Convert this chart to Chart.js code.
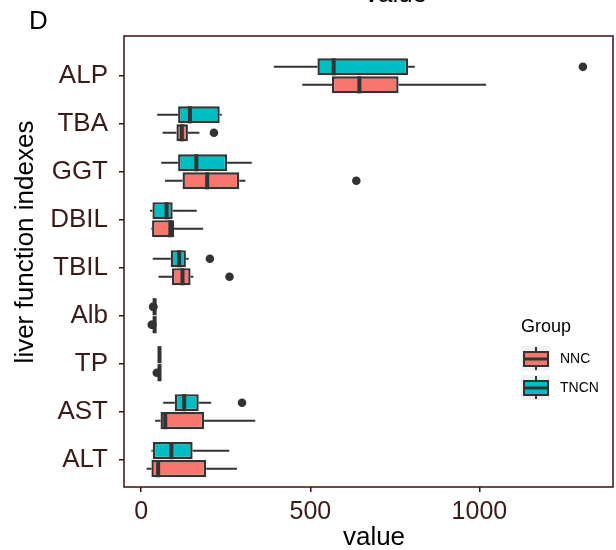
<!DOCTYPE html>
<html>
<head>
<meta charset="utf-8">
<script src="https://cdn.jsdelivr.net/npm/chart.js@4.4.1/dist/chart.umd.min.js"></script>
<style>
  body { margin: 0; background: #fff; }
</style>
</head>
<body>
<canvas id="myChart" width="616" height="550"></canvas>
<script>
const indexes = ['ALP', 'TBA', 'GGT', 'DBIL', 'TBIL', 'Alb', 'TP', 'AST', 'ALT'];
const xTicks = [0, 500, 1000];

// NNC group (lower box of each pair)
const nncLow = [476, 63, 70, 30, 51, 37, 50, 41, 16];
const nncQ1 = [564, 104, 122, 32, 91, 38.5, 52, 57, 30];
const nncMedian = [645, 120, 195, 86, 122, 39.5, 54, 71, 50];
const nncQ3 = [761, 138, 290, 97, 146, 41, 55, 186, 192];
const nncHigh = [1020, 172, 308, 183, 154, 43, 57, 337, 283];
const nncOutliers = [[], [215], [636], [], [261], [31, 33], [46], [], []];

// TNCN group (upper box of each pair)
const tncnLow = [392, 47, 59, 26, 34, 37, 51, 65, 30];
const tncnQ1 = [521, 109, 109, 33, 87, 38.5, 53, 99, 34];
const tncnMedian = [569, 144, 163, 75, 112, 39.5, 54, 127, 89];
const tncnQ3 = [789, 232, 254, 93, 132, 40.5, 55, 170, 152];
const tncnHigh = [809, 238, 327, 164, 140, 42, 57, 207, 260];
const tncnOutliers = [[1306], [], [], [], [203], [35, 36], [], [298], []];

const groups = [
  { name: 'TNCN', color: '#00BFC4', low: tncnLow, q1: tncnQ1, med: tncnMedian, q3: tncnQ3, high: tncnHigh, out: tncnOutliers },
  { name: 'NNC', color: '#F8766D', low: nncLow, q1: nncQ1, med: nncMedian, q3: nncQ3, high: nncHigh, out: nncOutliers }
];
const legendOrder = ['NNC', 'TNCN'];

const ink = '#333333';
const axisColor = '#3a0f0f';
const labelColor = '#3b1b17';
const fontFamily = '"Liberation Sans", Arial, sans-serif';

// whiskers, medians, outliers drawn on top of the floating bars
const boxExtras = {
  id: 'boxExtras',
  afterDatasetsDraw(chart) {
    const ctx = chart.ctx;
    const x = chart.scales.x;
    groups.forEach((g, di) => {
      const meta = chart.getDatasetMeta(di);
      meta.data.forEach((bar, i) => {
        const yc = bar.y;
        const h = bar.height;
        ctx.save();
        ctx.strokeStyle = ink;
        ctx.lineCap = 'butt';
        ctx.lineWidth = 2;
        ctx.beginPath();
        ctx.moveTo(x.getPixelForValue(g.low[i]), yc);
        ctx.lineTo(x.getPixelForValue(g.q1[i]), yc);
        ctx.moveTo(x.getPixelForValue(g.q3[i]), yc);
        ctx.lineTo(x.getPixelForValue(g.high[i]), yc);
        ctx.stroke();
        ctx.lineWidth = 4;
        const mx = x.getPixelForValue(g.med[i]);
        ctx.beginPath();
        ctx.moveTo(mx, yc - h / 2);
        ctx.lineTo(mx, yc + h / 2);
        ctx.stroke();
        ctx.fillStyle = ink;
        g.out[i].forEach(v => {
          ctx.beginPath();
          ctx.arc(x.getPixelForValue(v), yc, 4.3, 0, Math.PI * 2);
          ctx.fill();
        });
        ctx.restore();
      });
    });
  },
  afterDraw(chart) {
    const ctx = chart.ctx;
    const a = chart.chartArea;
    ctx.save();
    // panel frame
    ctx.strokeStyle = axisColor;
    ctx.lineWidth = 1.5;
    ctx.strokeRect(a.left, a.top, a.right - a.left, a.bottom - a.top);

    // texts
    ctx.fillStyle = '#000';
    ctx.font = '26px ' + fontFamily;
    ctx.textAlign = 'left';
    ctx.textBaseline = 'alphabetic';
    ctx.fillText('D', 29, 29);
    ctx.textAlign = 'center';
    ctx.fillText('value', 396, 2);
    ctx.fillText('value', 374, 545);
    ctx.save();
    ctx.translate(26, 242);
    ctx.rotate(-Math.PI / 2);
    ctx.textBaseline = 'middle';
    ctx.fillText('liver function indexes', 0, 0);
    ctx.restore();

    // legend
    ctx.textAlign = 'left';
    ctx.textBaseline = 'middle';
    ctx.font = '18px ' + fontFamily;
    ctx.fillText('Group', 521, 327);
    legendOrder.forEach((name, k) => {
      const g = groups.find(d => d.name === name);
      const top = 346 + k * 29;
      ctx.fillStyle = '#f2f2f2';
      ctx.fillRect(521, top, 29, 25);
      ctx.strokeStyle = ink;
      ctx.lineWidth = 2;
      ctx.beginPath();
      ctx.moveTo(536, top + 1);
      ctx.lineTo(536, top + 24);
      ctx.stroke();
      ctx.fillStyle = g.color;
      ctx.fillRect(524, top + 6, 24, 14);
      ctx.lineWidth = 2;
      ctx.strokeRect(524, top + 6, 24, 14);
      ctx.lineWidth = 3;
      ctx.beginPath();
      ctx.moveTo(524, top + 13);
      ctx.lineTo(548, top + 13);
      ctx.stroke();
      ctx.fillStyle = '#000';
      ctx.font = '14px ' + fontFamily;
      ctx.fillText(name, 560, top + 13);
    });
    ctx.restore();
  }
};

const ctx = document.getElementById('myChart').getContext('2d');
const data = {
  datasets: groups.map(g => ({
    label: g.name,
    data: indexes.map((c, i) => ({ y: i, x: [g.q1[i], g.q3[i]] })),
    backgroundColor: g.color,
    borderColor: ink,
    borderWidth: 2.4,
    borderSkipped: false,
    categoryPercentage: 0.75,
    barPercentage: 0.95
  }))
};

const config = {
  type: 'bar',
  data: data,
  options: {
    responsive: false,
    devicePixelRatio: 1,
    animation: false,
    indexAxis: 'y',
    layout: { padding: { top: 36, right: 3, left: 0, bottom: 0 } },
    scales: {
      x: {
        type: 'linear',
        min: -51,
        max: 1395,
        afterBuildTicks: s => { s.ticks = xTicks.map(v => ({ value: v })); },
        afterFit: s => { s.height = 63; },
        border: { display: false },
        grid: { drawOnChartArea: false, drawTicks: true, tickLength: 5, color: axisColor, lineWidth: 1.5 },
        ticks: {
          color: labelColor,
          font: { size: 25, family: fontFamily },
          padding: 5,
          maxRotation: 0,
          callback: v => String(v)
        }
      },
      y: {
        type: 'linear',
        reverse: true,
        offset: false,
        min: -0.83,
        max: 8.57,
        afterBuildTicks: s => { s.ticks = indexes.map((c, i) => ({ value: i })); },
        afterFit: s => { s.width = 124; },
        border: { display: false },
        grid: { offset: false, drawOnChartArea: false, drawTicks: true, tickLength: 5, color: axisColor, lineWidth: 1.5 },
        ticks: {
          color: labelColor,
          font: { size: 26, family: fontFamily },
          padding: 11,
          callback: v => indexes[v]
        }
      }
    },
    plugins: {
      legend: { display: false },
      tooltip: { enabled: false }
    }
  },
  plugins: [boxExtras]
};

const myChart = new Chart(ctx, config);
</script>
</body>
</html>
